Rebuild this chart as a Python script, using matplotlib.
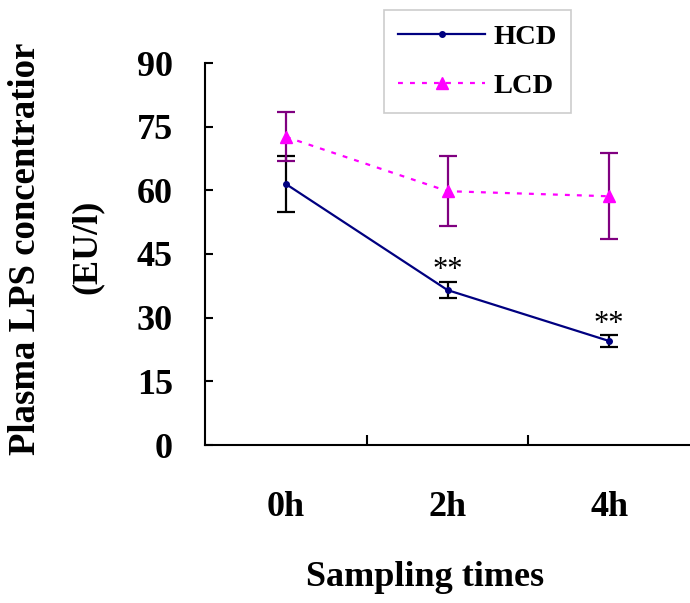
import numpy as np
import matplotlib
matplotlib.use("Agg")
import matplotlib.pyplot as plt

# data
times = ["0h", "2h", "4h"]
hcd_mean = [61.5, 36.5, 24.5]
hcd_sd = [6.5, 1.9, 1.4]
lcd_mean = [72.6, 59.8, 58.6]
lcd_sd = [5.8, 8.3, 10.1]
stars = ["", "**", "**"]

plt.rcParams['font.family'] = ['Liberation Serif', 'DejaVu Serif']

fig = plt.figure(figsize=(6.9, 6.03), dpi=100)
ax = fig.add_axes([205/690, 1-445/603, 1-205/690, (445-63)/603])

x = np.arange(len(times))

# error bars first
ax.errorbar(x, hcd_mean, yerr=hcd_sd, fmt='none', ecolor='black',
            elinewidth=1.6, capsize=6.5, capthick=1.6, zorder=2)
ax.errorbar(x, lcd_mean, yerr=lcd_sd, fmt='none', ecolor='#800080',
            elinewidth=1.6, capsize=6.5, capthick=1.6, zorder=2)

# lines
ax.plot(x, hcd_mean, color='#000080', lw=1.6, marker='o', ms=4,
        label='HCD', zorder=3)
ax.plot(x, lcd_mean, color='#ff00ff', lw=1.6, ls=(0, (2.2, 3.2)),
        marker='^', ms=9, label='LCD', zorder=3)

# significance marks
for xi, m, sd, s in zip(x, hcd_mean, hcd_sd, stars):
    if s:
        ax.text(xi, m + sd + 2.6, s, ha='center', va='center', fontsize=22)

ax.set_xlim(-0.5, 2.5)
ax.set_ylim(0, 90)
ax.set_yticks(np.arange(0, 91, 15))
ax.set_xticks(x)
ax.set_xticklabels(times)
ax.set_xticks([0.5, 1.5], minor=True)

for s in ['top', 'right']:
    ax.spines[s].set_visible(False)
for s in ['left', 'bottom']:
    ax.spines[s].set_linewidth(1.5)

ax.tick_params(axis='y', direction='in', length=6, width=1.5, pad=23,
               labelsize=26)
for t in ax.get_yticklabels():
    t.set_fontweight('bold')
ax.tick_params(axis='x', which='major', length=0, pad=33, labelsize=26)
ax.tick_params(axis='x', which='minor', direction='in', length=7.5, width=1.5)
for t in ax.get_xticklabels():
    t.set_fontweight('bold')

ax.set_xlabel('Sampling times', fontsize=26, fontweight='bold', labelpad=27)
ax.xaxis.label.set_x((425 - 205) / 485)

fig.text(26/690, 1-249/603, 'Plasma LPS concentratior', rotation=90,
         ha='center', va='center', fontsize=26.5, fontweight='bold')
fig.text(87/690, 1-247/603, '(EU/l)', rotation=90,
         ha='center', va='center', fontsize=26, fontweight='bold')

leg = ax.legend(loc='upper left', bbox_to_anchor=(384/690, 1-10/603),
                bbox_transform=fig.transFigure, frameon=True, fancybox=False,
                prop={'weight': 'bold', 'size': 20.5}, handlelength=3.05,
                handletextpad=0.3, labelspacing=0.8, borderpad=0.5,
                borderaxespad=0)
leg.get_frame().set_edgecolor('#c0c0c0')
leg.get_frame().set_linewidth(1.2)

fig.savefig('out.png', dpi=100)
